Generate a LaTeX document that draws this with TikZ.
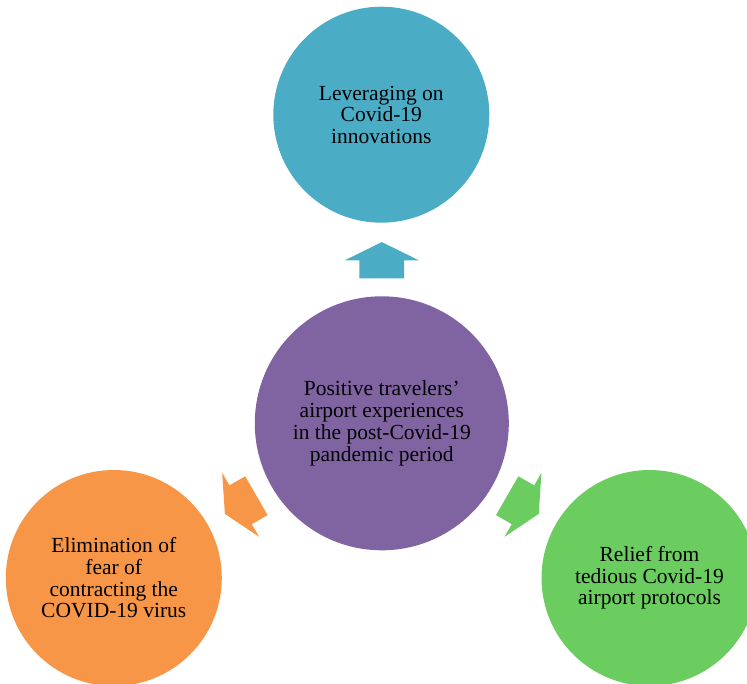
\documentclass[tikz,border=0pt]{standalone}
\usepackage{fontspec}
\setmainfont{Liberation Serif}
\usetikzlibrary{calc}
\definecolor{cblue}{HTML}{4BACC6}
\definecolor{cpurple}{HTML}{8064A2}
\definecolor{corange}{HTML}{F79646}
\definecolor{cgreen}{HTML}{6BCC5F}
\begin{document}
\begin{tikzpicture}[x=1pt,y=1pt,
  bubble/.style={circle, minimum size=216pt, inner sep=0pt, text=black, align=center,
    font=\fontsize{21.5}{21.7}\selectfont},
  blockarr/.style={draw=none}]
\useasboundingbox (0,0) rectangle (747,683);
\clip (0,0) rectangle (747,683);
\node[bubble, fill=cpurple, minimum size=254pt] (c) at (381.8,259.7)
  {Positive travelers’\\airport experiences\\in the post-Covid-19\\pandemic period};
\node[bubble, fill=cblue] (t) at (381.3,568.3)
  {Leveraging on\\Covid-19\\innovations};
\node[bubble, fill=corange] (l) at (113.8,105)
  {Elimination of\\fear of\\contracting the\\COVID-19 virus};
\node[bubble, fill=cgreen] (r) at (649.5,105)
  {Relief from\\tedious Covid-19\\airport protocols};
\foreach \ang/\col in {90/cblue,210/corange,330/cgreen}{
  \fill[blockarr, \col, shift={($(c)+(\ang:163)$)}, rotate=\ang]
    (18.2,0) -- (0,37) -- (0,22.4) -- (-18.2,22.4) -- (-18.2,-22.4)
    -- (0,-22.4) -- (0,-37) -- cycle;
}
\end{tikzpicture}
\end{document}
